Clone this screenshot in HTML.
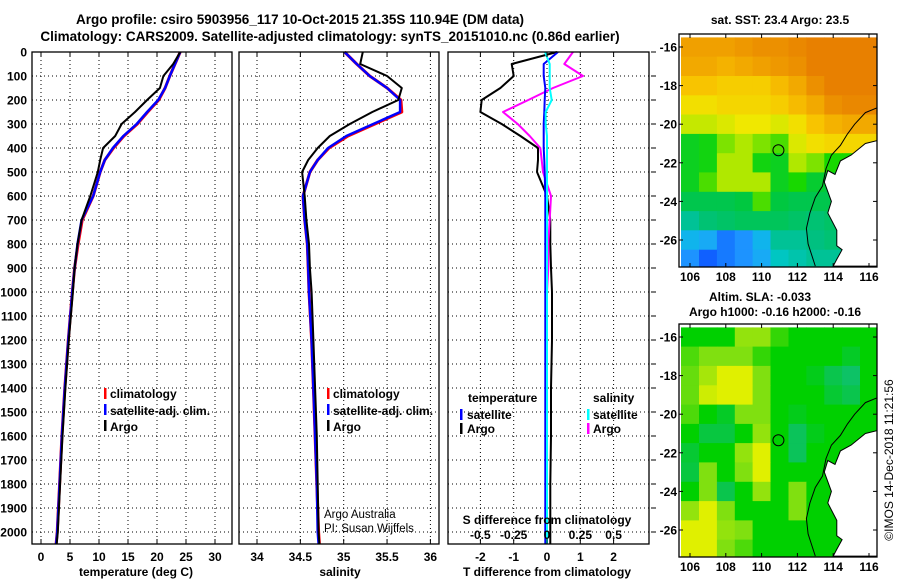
<!DOCTYPE html>
<html><head><meta charset="utf-8"><style>
html,body{margin:0;padding:0;background:#fff;}
svg{display:block;font-family:"Liberation Sans",Arial,sans-serif;}
.b{font-weight:bold;font-size:12px;}
</style></head><body>
<svg id="fig" width="900" height="580" viewBox="0 0 900 580" xmlns="http://www.w3.org/2000/svg">
<text x="300" y="24" text-anchor="middle" font-size="13.5" font-weight="bold">Argo profile: csiro 5903956_117 10-Oct-2015 21.35S 110.94E (DM data)</text>
<text x="330" y="41" text-anchor="middle" font-size="13.5" font-weight="bold">Climatology: CARS2009. Satellite-adjusted climatology: synTS_20151010.nc (0.86d earlier)</text>
<g id="g-grid"></g>
<g id="g-lines"></g>
<g id="g-frames"></g>
<g id="g-labels" class="b"></g>
<g id="g-maps"></g>

<!-- legends -->
<g class="b">
<rect x="104" y="388" width="2.5" height="11" fill="#f00"/><text x="110" y="398">climatology</text>
<rect x="104" y="404" width="2.5" height="11" fill="#00f"/><text x="110" y="415">satellite-adj. clim.</text>
<rect x="104" y="420" width="2.5" height="11" fill="#000"/><text x="110" y="431">Argo</text>
</g>
<g class="b">
<rect x="327" y="388" width="2.5" height="11" fill="#f00"/><text x="333" y="398">climatology</text>
<rect x="327" y="404" width="2.5" height="11" fill="#00f"/><text x="333" y="415">satellite-adj. clim.</text>
<rect x="327" y="420" width="2.5" height="11" fill="#000"/><text x="333" y="431">Argo</text>
</g>
<text x="324" y="518" font-size="11.5">Argo Australia</text>
<text x="324" y="532" font-size="11.5">PI: Susan Wijffels</text>
<g class="b">
<text x="468" y="402">temperature</text>
<rect x="460" y="409" width="2.5" height="11" fill="#00f"/><text x="467" y="419">satellite</text>
<rect x="460" y="423" width="2.5" height="11" fill="#000"/><text x="467" y="433">Argo</text>
<text x="593" y="402">salinity</text>
<rect x="587" y="409" width="2.5" height="11" fill="#0ff"/><text x="593" y="419">satellite</text>
<rect x="587" y="423" width="2.5" height="11" fill="#f0f"/><text x="593" y="433">Argo</text>
</g>
<text x="547" y="524" text-anchor="middle" class="b" font-size="12.5">S difference from climatology</text>
<text x="136" y="576" text-anchor="middle" class="b">temperature (deg C)</text>
<text x="340" y="576" text-anchor="middle" class="b">salinity</text>
<text x="547" y="576" text-anchor="middle" class="b">T difference from climatology</text>
<text x="780" y="24" text-anchor="middle" class="b">sat. SST: 23.4 Argo: 23.5</text>
<text x="760" y="301" text-anchor="middle" class="b">Altim. SLA: -0.033</text>
<text x="775" y="316" text-anchor="middle" class="b">Argo h1000: -0.16 h2000: -0.16</text>
<text transform="translate(893,460) rotate(-90)" text-anchor="middle" font-size="12">©IMOS 14-Dec-2018 11:21:56</text>
</svg>
<script>
const NS='http://www.w3.org/2000/svg';
// ---- profile data ----
const depths=[0,50,100,150,200,250,300,350,400,450,500,600,700,800,900,1000,1200,1400,1600,1800,2000,2050];
const tempClim=[24.0,23.1,22.2,21.4,20.3,18.4,16.6,14.3,12.5,11.0,10.2,9.0,7.1,6.4,5.8,5.4,4.7,4.1,3.6,3.2,2.8,2.6];
const tempSat=[24.0,23.1,22.2,21.4,20.2,18.3,16.5,14.2,12.4,11.0,10.2,9.0,7.0,6.3,5.8,5.4,4.7,4.1,3.6,3.2,2.8,2.6];
const tempArgo=[24.0,22.8,21.1,20.5,18.3,16.2,13.9,12.8,10.7,10.2,9.8,8.5,7.0,6.3,5.8,5.5,4.8,4.2,3.7,3.3,2.9,2.7];
const salClim=[35.01,35.15,35.30,35.50,35.66,35.67,35.36,35.05,34.83,34.70,34.61,34.53,34.55,34.58,34.59,34.60,34.63,34.65,34.67,34.69,34.71,34.72];
const salSat=[35.01,35.15,35.30,35.50,35.65,35.65,35.34,35.03,34.82,34.70,34.61,34.53,34.55,34.58,34.59,34.60,34.63,34.65,34.67,34.69,34.70,34.71];
const salArgo=[35.22,35.19,35.50,35.67,35.63,35.33,35.07,34.84,34.70,34.59,34.52,34.55,34.57,34.60,34.61,34.63,34.65,34.67,34.69,34.70,34.71,34.72];
const dTArgo=[0.3,-1.06,-1.0,-1.4,-1.96,-2.0,-1.36,-0.8,-0.27,-0.27,-0.3,0.0,0.1,0.1,0.12,0.15,0.15,0.12,0.12,0.1,0.1,0.1];
const dTSat=[0.33,-0.1,-0.1,-0.05,-0.07,-0.08,-0.1,-0.1,-0.1,-0.08,-0.07,-0.05,-0.05,-0.05,-0.05,-0.05,-0.05,-0.05,-0.05,-0.05,-0.05,-0.05];
const dSArgo=[0.195,0.13,0.27,0.045,-0.14,-0.33,-0.22,-0.13,-0.05,-0.04,-0.03,0.03,0.02,0.01,0.01,0.0,0.0,0.0,0.0,0.0,0.0,0.0];
const dSSat=[-0.015,0.02,0.02,0.02,0.035,-0.01,-0.01,0.0,0.0,0.0,0.0,0.0,0.0,0.0,0.0,0.0,0.0,0.0,0.0,0.0,0.0,0.0];
const depthTicks=[0,100,200,300,400,500,600,700,800,900,1000,1100,1200,1300,1400,1500,1600,1700,1800,1900,2000];
const tTicks=[0,5,10,15,20,25,30];
const sTicks=[34,34.5,35,35.5,36];
const dTTicks=[-2,-1,0,1,2];
const dSTicks=[-0.5,-0.25,0,0.25,0.5];
const dSTickLabels=['-0.5','-0.25','0','0.25','0.5'];
// ---- map data (rows lat -16..-27, cols lon 106..116) ----
const mapLons=[106,107,108,109,110,111,112,113,114,115,116];
const mapLats=[-16,-17,-18,-19,-20,-21,-22,-23,-24,-25,-26,-27];
const sstGrid=[
[24.4,24.4,24.4,24.5,24.6,24.6,24.7,24.8,24.8,24.8,24.8],
[24.3,24.3,24.2,24.3,24.4,24.5,24.6,24.8,24.8,24.8,24.8],
[24.0,24.0,23.9,23.9,23.9,24.1,24.3,24.6,24.8,24.8,24.8],
[23.7,23.7,23.8,23.8,23.8,23.9,24.1,24.3,24.6,24.7,24.7],
[23.4,23.4,23.5,23.6,23.6,23.5,23.7,24.0,24.2,24.3,24.3],
[22.8,22.9,23.2,23.3,23.2,23.1,23.5,23.7,23.8,23.8,23.8],
[22.8,22.9,23.3,23.3,22.9,22.8,23.3,23.2,23.0,23.0,23.0],
[22.8,23.1,23.3,23.3,23.3,22.8,23.0,22.7,22.6,22.6,22.6],
[22.5,22.5,22.5,22.6,23.1,22.6,22.5,22.5,22.5,22.5,22.5],
[22.0,22.2,22.3,22.4,22.4,22.4,22.3,22.2,22.3,22.3,22.3],
[21.5,21.4,21.0,21.2,21.5,22.0,22.0,22.1,22.2,22.2,22.2],
[21.2,20.8,21.0,21.2,21.4,21.8,21.9,22.0,22.0,22.0,22.0]];
const slaGrid=[
[0.0,0.0,0.0,0.06,0.06,0.02,0.0,0.0,0.0,0.0,0.0],
[0.03,0.05,0.05,0.05,0.02,0.0,0.0,0.0,0.0,-0.03,0.0],
[0.04,0.07,0.1,0.1,0.05,0.0,0.0,-0.02,-0.06,-0.08,0.0],
[0.04,0.09,0.11,0.1,0.05,0.0,0.0,0.0,-0.04,-0.06,0.0],
[0.03,0.0,-0.03,0.05,0.05,0.0,-0.02,0.0,0.0,0.0,0.0],
[0.0,-0.05,-0.05,0.0,0.06,0.0,-0.07,-0.02,0.0,0.0,0.0],
[-0.04,0.0,0.0,0.06,0.1,0.0,-0.07,0.0,0.0,0.0,0.0],
[-0.05,0.05,0.0,0.05,0.1,0.0,0.0,0.0,0.0,0.0,0.0],
[0.0,0.05,-0.06,0.0,0.06,0.0,0.05,0.0,0.0,0.0,0.0],
[0.06,0.1,0.05,0.0,0.0,0.0,0.05,0.0,0.0,0.0,0.0],
[0.11,0.11,0.06,0.05,0.0,0.0,0.0,0.0,0.0,0.0,0.0],
[0.11,0.1,0.05,0.03,0.0,0.0,0.0,0.0,0.0,0.0,0.0]];
const mapTickLons=[106,108,110,112,114,116];
const mapTickLats=[-16,-18,-20,-22,-24,-26];
const argoLon=110.94, argoLat=-21.35;
const isobath=[[116.45,-19.15],[115.8,-19.4],[115.2,-20.0],[114.8,-20.5],[114.4,-21.1],[113.9,-21.6],[113.6,-22.3],[113.4,-23.2],[113.0,-23.8],[112.7,-24.6],[112.5,-25.4],[112.6,-26.2],[113.0,-27.35]];
const land=[[116.45,-20.85],[115.8,-21.0],[115.0,-21.6],[114.4,-21.9],[114.1,-22.6],[113.7,-22.4],[113.5,-23.0],[113.9,-24.0],[113.7,-24.6],[114.2,-25.5],[114.2,-26.3],[114.5,-26.5],[114.2,-27.0],[114.0,-27.35],[116.45,-27.35]];

// ---- scales ----
const yD=d=>52+d*0.24;
const xT=t=>41+t*5.8;
const xS=s=>257+(s-34)*86.7;
const xDT=v=>547+v*33.3;
const xDS=v=>547+v*133.3;
const mx=lon=>690+(lon-106)*17.9;
const myTop=lat=>47+(-16-lat)*19.3;
const myBot=lat=>337+(-16-lat)*19.3;
const panels=[[32,232],[239,439],[448,649]];
const PT=52,PB=544;

function el(tag,attrs,parent){const e=document.createElementNS(NS,tag);for(const k in attrs)e.setAttribute(k,attrs[k]);parent.appendChild(e);return e;}
const gGrid=document.getElementById('g-grid'),gLines=document.getElementById('g-lines'),gFr=document.getElementById('g-frames'),gLab=document.getElementById('g-labels'),gMaps=document.getElementById('g-maps');

// grids
panels.forEach(([a,b])=>{
  depthTicks.forEach(d=>{const l=el('line',{x1:a,x2:b,y1:yD(d),y2:yD(d),stroke:'#000','stroke-width':1,'stroke-dasharray':'1,3'},gGrid);
  
  });
});
function vgrid(ticks,fx){ticks.forEach(t=>{const l=el('line',{x1:fx(t),x2:fx(t),y1:PT,y2:PB,stroke:'#000','stroke-dasharray':'1,3'},gGrid);
  
  });}
vgrid(tTicks,xT);vgrid(sTicks,xS);vgrid(dTTicks,xDT);

// lines
function line(xs,fx,color,w,name){const pts=depths.map((d,i)=>fx(xs[i]).toFixed(1)+','+yD(d).toFixed(1)).join(' ');
  const p=el('polyline',{points:pts,fill:'none',stroke:color,'stroke-width':w,'stroke-linejoin':'round'},gLines);
  
  }
line(tempClim,xT,'#f00',3,'temp-climatology-line');
line(tempSat,xT,'#00f',2.5,'temp-satellite-line');
line(tempArgo,xT,'#000',2,'temp-argo-line');
line(salClim,xS,'#f00',3,'sal-climatology-line');
line(salSat,xS,'#00f',2.5,'sal-satellite-line');
line(salArgo,xS,'#000',2,'sal-argo-line');
line(dTArgo,xDT,'#000',2,'tdiff-argo-line');
line(dSArgo,xDS,'#f0f',2,'sdiff-argo-line');
line(dTSat,xDT,'#00f',2,'tdiff-satellite-line');
line(dSSat,xDS,'#0ff',2,'sdiff-satellite-line');

// frames
panels.forEach(([a,b],i)=>{const r=el('rect',{x:a,y:PT,width:b-a,height:PB-PT,fill:'none',stroke:'#000','stroke-width':1.3},gFr);
  
  
  [tTicks.map(xT),sTicks.map(xS),dTTicks.map(xDT)][i].forEach(x=>{el('line',{x1:x,x2:x,y1:PB,y2:PB-5,stroke:'#000'},gFr);el('line',{x1:x,x2:x,y1:PT,y2:PT+5,stroke:'#000'},gFr);});
});
depthTicks.forEach(d=>{el('line',{x1:651,x2:656,y1:yD(d),y2:yD(d),stroke:'#000'},gFr);});
// labels
function txt(x,y,s,anchor,name,parent){const t=el('text',{x:x,y:y,'text-anchor':anchor},parent||gLab);t.textContent=s;
  
  return t;}
depthTicks.forEach(d=>txt(27,yD(d)+4.5,String(d),'end','depth-tick-label'));
tTicks.forEach(t=>txt(xT(t),561,String(t),'middle','temp-tick-label'));
sTicks.forEach(s=>txt(xS(s),561,String(s),'middle','sal-tick-label'));
dTTicks.forEach(v=>txt(xDT(v),561,String(v),'middle','tdiff-tick-label'));
dSTicks.forEach((v,i)=>txt(xDS(v),539,dSTickLabels[i],'middle','sdiff-tick-label'));

// maps
const sstStops=[[20.8,[16,96,255]],[21.3,[32,160,255]],[21.7,[0,200,216]],[22.1,[0,192,128]],[22.6,[0,200,64]],[23.0,[24,216,0]],[23.3,[176,232,0]],[23.6,[240,232,0]],[24.0,[248,196,0]],[24.4,[240,160,0]],[24.8,[232,128,0]]];
const slaStops=[[-0.1,[16,190,128]],[0,[0,208,0]],[0.05,[128,224,16]],[0.1,[224,240,0]]];
function cmap(v,stops){if(v<=stops[0][0])return stops[0][1];for(let i=1;i<stops.length;i++){if(v<=stops[i][0]){const a=stops[i-1],b=stops[i],f=(v-a[0])/(b[0]-a[0]);return a[1].map((c,k)=>Math.round(c+(b[1][k]-c)*f));}}return stops[stops.length-1][1];}
function drawMap(grid,stops,my,top,bot,name){
  const g=el('g',{},gMaps);
  
  
  const cid='clip-'+name;const cp=el('clipPath',{id:cid},g);el('rect',{x:679,y:top,width:198,height:bot-top},cp);
  const cells=el('g',{'clip-path':'url(#'+cid+')'},g);
  mapLats.forEach((lat,r)=>mapLons.forEach((lon,c)=>{
    const col=cmap(grid[r][c],stops);
    const x0=mx(lon-0.5),y0=my(lat+0.5);
    const rc=el('rect',{x:x0.toFixed(1),y:y0.toFixed(1),width:(mx(lon+0.5)-x0+0.5).toFixed(1),height:(my(lat-0.5)-y0+0.5).toFixed(1),fill:'rgb('+col.join(',')+')'},cells);
    
    
  }));
  const lp=el('polygon',{points:land.map(p=>mx(p[0]).toFixed(1)+','+my(p[1]).toFixed(1)).join(' '),fill:'#fff',stroke:'#000','stroke-width':1},cells);
  
  
  const ib=el('polyline',{points:isobath.map(p=>mx(p[0]).toFixed(1)+','+my(p[1]).toFixed(1)).join(' '),fill:'none',stroke:'#000','stroke-width':1},cells);
  
  
  const ci=el('circle',{cx:mx(argoLon),cy:my(argoLat),r:5.5,fill:'none',stroke:'#000','stroke-width':1},g);
  
  
  const fr=el('rect',{x:679,y:top,width:198,height:bot-top,fill:'none',stroke:'#000','stroke-width':1.3},g);
  
  
  const lg=el('g',{class:'b'},g);
  mapTickLons.forEach(lon=>{el('line',{x1:mx(lon),x2:mx(lon),y1:bot,y2:bot-4,stroke:'#000'},g);el('line',{x1:mx(lon),x2:mx(lon),y1:top,y2:top+4,stroke:'#000'},g);txt(mx(lon),bot+14,String(lon),'middle','map-lon-label',lg);});
  mapTickLats.forEach(lat=>{el('line',{x1:679,x2:683,y1:my(lat),y2:my(lat),stroke:'#000'},g);el('line',{x1:877,x2:873,y1:my(lat),y2:my(lat),stroke:'#000'},g);txt(677,my(lat)+4.5,String(lat),'end','map-lat-label',lg);});
}
drawMap(sstGrid,sstStops,myTop,34,267,'sst-map');
drawMap(slaGrid,slaStops,myBot,324,557,'sla-map');
</script>
</body></html>
